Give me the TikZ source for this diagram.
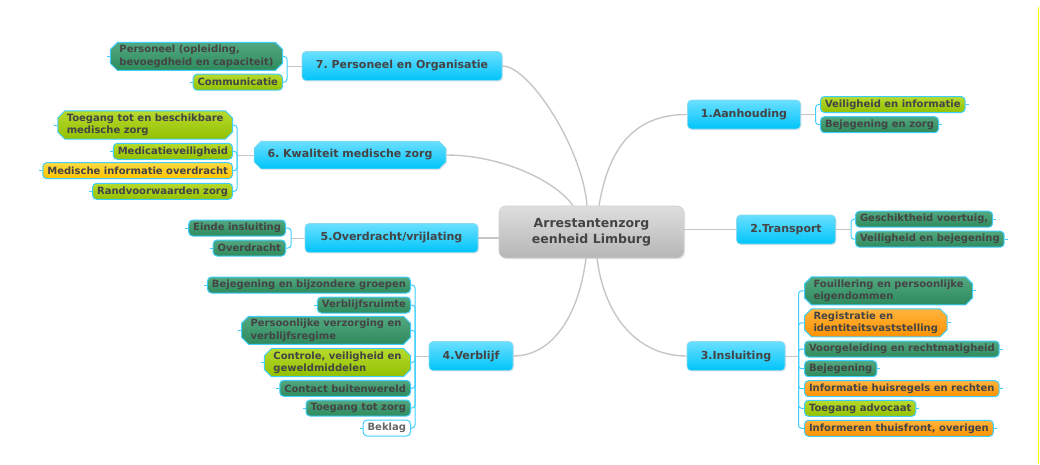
\documentclass[tikz,border=0pt]{standalone}
\usepackage{fontspec}
\setmainfont{DejaVu Sans}
\usetikzlibrary{shapes.misc,shadows,backgrounds}
\definecolor{cyanT}{HTML}{6ADFFF}
\definecolor{cyanB}{HTML}{00C4FA}
\definecolor{cyanE}{HTML}{8ED9EE}
\definecolor{cyanL}{HTML}{3FCFFF}
\definecolor{dgT}{HTML}{52A880}
\definecolor{dgB}{HTML}{2E8A5D}
\definecolor{lgT}{HTML}{B6DA2E}
\definecolor{lgB}{HTML}{92C000}
\definecolor{ogT}{HTML}{FFB43E}
\definecolor{ogB}{HTML}{FF9200}
\definecolor{gdT}{HTML}{FFDA40}
\definecolor{gdB}{HTML}{FFC200}
\definecolor{ctT}{HTML}{DEDEDE}
\definecolor{ctB}{HTML}{B6B6B6}
\definecolor{ctE}{HTML}{CFCFCF}
\definecolor{txt}{HTML}{444444}
\definecolor{lineg}{HTML}{C6C6C6}
\definecolor{yel}{HTML}{FFFF00}
\tikzset{
  mainbox/.style={draw=cyanE, line width=0.6pt, rounded corners=4pt,
    top color=cyanT, bottom color=cyanB, text=txt,
    font=\bfseries\fontsize{11}{13}\selectfont\frenchspacing, minimum height=29pt, inner sep=0pt,
    drop shadow={opacity=0.18, shadow xshift=1pt, shadow yshift=-1.2pt}},
  centerbox/.style={draw=ctE, line width=0.6pt, rounded corners=7pt,
    top color=ctT, bottom color=ctB, text=txt, align=center,
    font=\bfseries\fontsize{12.5}{16}\selectfont, minimum width=185pt, minimum height=52pt, inner sep=0pt,
    drop shadow={opacity=0.18, shadow xshift=1pt, shadow yshift=-1.2pt}},
  sub/.style={draw=cyanL, line width=1pt, rounded corners=4pt, text=txt,
    font=\bfseries\fontsize{10}{12.3}\selectfont, inner xsep=4.5pt, inner ysep=2.6pt,
    minimum height=16pt, align=left},
  chamf/.style={chamfered rectangle, sharp corners, chamfered rectangle xsep=4pt,
    chamfered rectangle ysep=3pt, inner xsep=5pt, inner ysep=0pt},
  dg/.style={top color=dgT, bottom color=dgB},
  lg/.style={top color=lgT, bottom color=lgB},
  og/.style={top color=ogT, bottom color=ogB},
  gd/.style={top color=gdT, bottom color=gdB},
  wh/.style={fill=white, text=black!60},
  lnk/.style={draw=lineg, line width=1.4pt},
  stub/.style={draw=lineg, line width=1pt},
  brk/.style={draw=cyanL, line width=1pt, rounded corners=3pt},
  tick/.style={draw=cyanL, line width=1pt}
}
\begin{document}
\begin{tikzpicture}[x=1pt,y=-1pt]
\useasboundingbox (0,0) rectangle (1040,464);
% centre
\node[centerbox] (c) at (591.5,232) {Arrestantenzorg\\eenheid Limburg};
% main branches
\node[mainbox, minimum width=200pt] (n7) at (402,66) {7. Personeel en Organisatie};
\node[mainbox, chamfered rectangle, sharp corners, chamfered rectangle xsep=3.5pt, chamfered rectangle ysep=3.5pt, minimum height=0pt, inner xsep=10pt, inner ysep=5pt] (n6) at (350,155) {6. Kwaliteit medische zorg};
\node[mainbox, minimum width=173pt] (n5) at (391.5,238) {5.Overdracht/vrijlating};
\node[mainbox, minimum width=84pt] (n4) at (471,356) {4.Verblijf};
\node[mainbox, minimum width=98pt] (n3) at (736,356) {3.Insluiting};
\node[mainbox, minimum width=99pt] (n2) at (786,229.5) {2.Transport};
\node[mainbox, minimum width=113pt] (n1) at (744,114.5) {1.Aanhouding};
% sub items 7
\node[sub, dg, chamf, anchor=east] (s71) at (283,56.4) {Personeel (opleiding,\\bevoegdheid en capaciteit)};
\node[sub, lg, anchor=east] (s72) at (283,82.2) {Communicatie};
% sub items 6
\node[sub, lg, chamf, anchor=east] (s61) at (233,125) {Toegang tot en beschikbare\\medische zorg};
\node[sub, lg, anchor=east] (s62) at (233,151.3) {Medicatieveiligheid};
\node[sub, gd, anchor=east] (s63) at (233,170.7) {Medische informatie overdracht};
\node[sub, lg, anchor=east] (s64) at (233,191.3) {Randvoorwaarden zorg};
% sub items 5
\node[sub, dg, anchor=east] (s51) at (286,228) {Einde insluiting};
\node[sub, dg, anchor=east] (s52) at (286,248) {Overdracht};
% sub items 4
\node[sub, dg, anchor=east] (s41) at (411,285) {Bejegening en bijzondere groepen};
\node[sub, dg, anchor=east] (s42) at (411,305) {Verblijfsruimte};
\node[sub, dg, chamf, anchor=east] (s43) at (411,330.3) {Persoonlijke verzorging en\\verblijfsregime};
\node[sub, lg, chamf, anchor=east] (s44) at (411,362.5) {Controle, veiligheid en\\geweldmiddelen};
\node[sub, dg, anchor=east] (s45) at (411,388.3) {Contact buitenwereld};
\node[sub, dg, anchor=east] (s46) at (411,408) {Toegang tot zorg};
\node[sub, wh, anchor=east] (s47) at (411,428) {Beklag};
% sub items 1
\node[sub, lg, anchor=west] (s11) at (820,104.5) {Veiligheid en informatie};
\node[sub, dg, anchor=west] (s12) at (820,124.7) {Bejegening en zorg};
% sub items 2
\node[sub, dg, anchor=west] (s21) at (855,219.2) {Geschiktheid voertuig,};
\node[sub, dg, anchor=west] (s22) at (855,239.2) {Veiligheid en bejegening};
% sub items 3
\node[sub, dg, chamf, anchor=west] (s31) at (804,290.8) {Fouillering en persoonlijke\\eigendommen};
\node[sub, og, chamf, anchor=west] (s32) at (804,322.8) {Registratie en\\identiteitsvaststelling};
\node[sub, dg, anchor=west] (s33) at (804,349) {Voorgeleiding en rechtmatigheid};
\node[sub, dg, anchor=west] (s34) at (804,368.7) {Bejegening};
\node[sub, og, anchor=west] (s35) at (804,388.7) {Informatie huisregels en rechten};
\node[sub, lg, anchor=west] (s36) at (804,408.3) {Toegang advocaat};
\node[sub, og, anchor=west] (s37) at (804,428.3) {Informeren thuisfront, overigen};
% bracket points
\coordinate (b7) at (287,66);
\coordinate (b6) at (237,155);
\coordinate (b5) at (291,238);
\coordinate (b4) at (415,356);
\coordinate (b1) at (815.6,114.5);
\coordinate (b2) at (851,229.5);
\coordinate (b3) at (798.5,356);
% yellow edge line
\coordinate (y0) at (1038.5,7);
\coordinate (y1) at (1038.5,464);
\draw[yel, line width=1.4pt] (y0) -- (y1);
\begin{scope}[on background layer]
% centre links
\draw[lnk] ([xshift=-4.5pt]c.north) .. controls (583,150) and (530,66) .. (n7.east);
\draw[lnk] ([xshift=-18.5pt]c.north) .. controls (555,180) and (500,155) .. (n6.east);
\draw[lnk] ([xshift=7.5pt]c.north) .. controls (610,140) and (640,114.5) .. (n1.west);
\draw[lnk] ([xshift=-5.5pt]c.south) .. controls (578,320) and (550,356) .. (n4.east);
\draw[lnk] ([xshift=5.5pt]c.south) .. controls (605,320) and (640,356) .. (n3.west);
\draw[stub, line width=1.2pt] (c.west |- n5.east) -- (n5.east);
\draw[stub, line width=1.2pt] (c.east |- n2.west) -- (n2.west);
% stubs to brackets
\draw[stub] (n7.west) -- (b7);
\draw[stub] (n6.west) -- (b6);
\draw[stub] (n5.west) -- (b5);
\draw[stub] (n4.west) -- (b4);
\draw[stub] (n1.east) -- (b1);
\draw[stub] (n2.east) -- (b2);
\draw[stub] (n3.east) -- (b3);
% brackets
\foreach \s in {s71,s72} {\draw[brk] (b7) |- (\s.east);}
\foreach \s in {s61,s62,s63,s64} {\draw[brk] (b6) |- (\s.east);}
\foreach \s in {s51,s52} {\draw[brk] (b5) |- (\s.east);}
\foreach \s in {s41,s42,s43,s44,s45,s46,s47} {\draw[brk] (b4) |- (\s.east);}
\foreach \s in {s11,s12} {\draw[brk] (b1) |- (\s.west);}
\foreach \s in {s21,s22} {\draw[brk] (b2) |- (\s.west);}
\foreach \s in {s31,s32,s33,s34,s35,s36,s37} {\draw[brk] (b3) |- (\s.west);}
% outer ticks
\foreach \s in {s71,s72,s61,s62,s63,s64,s51,s52,s41,s42,s43,s44,s45,s46,s47} {\draw[tick] (\s.west) -- ++(-3,0);}
\foreach \s in {s11,s12,s21,s22,s31,s32,s33,s34,s35,s36,s37} {\draw[tick] (\s.east) -- ++(3,0);}
\end{scope}
\end{tikzpicture}
\end{document}
